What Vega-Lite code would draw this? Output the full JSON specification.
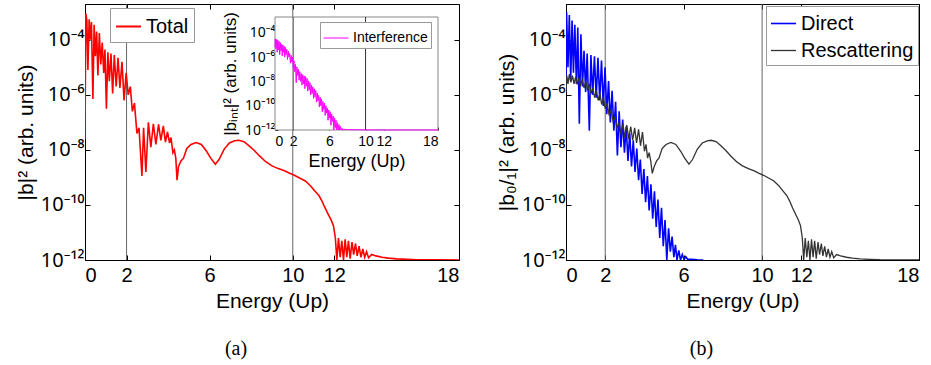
{
"$schema":"https://vega.github.io/schema/vega-lite/v6.json",
"background":"white",
"padding":{"left":14,"top":3,"right":0,"bottom":0},
"config":{"font":"Liberation Sans","view":{"stroke":"black","strokeWidth":1},
"axis":{"grid":false,"labelColor":"#000","titleColor":"#000","domainColor":"#000","tickColor":"#000","titleFontWeight":"normal","labelFont":"Liberation Sans","titleFont":"Liberation Sans"},
"axisY":{"labelFont":"Noto Sans"},
"legend":{"labelFont":"Liberation Sans","labelColor":"#000"},
"title":{"font":"Liberation Serif","fontWeight":"normal","color":"#000"}},
"datasets":{
"total":[{"E":0,"v":2.51e-8},{"E":0.04,"v":8.91e-4},{"E":0.09,"v":5.01e-4},{"E":0.14,"v":7.94e-6},{"E":0.2,"v":5.62e-4},{"E":0.26,"v":1e-4},{"E":0.31,"v":4.47e-4},{"E":0.38,"v":7.08e-7},{"E":0.44,"v":3.55e-4},{"E":0.5,"v":2.51e-5},{"E":0.56,"v":2.0e-4},{"E":0.62,"v":5.01e-6},{"E":0.69,"v":1.78e-4},{"E":0.76,"v":1.26e-5},{"E":0.83,"v":7.94e-5},{"E":0.9,"v":6.31e-6},{"E":0.96,"v":4.47e-5},{"E":1.03,"v":3.16e-7},{"E":1.1,"v":3.55e-5},{"E":1.17,"v":3.16e-6},{"E":1.25,"v":3.16e-5},{"E":1.33,"v":1.12e-6},{"E":1.41,"v":2.82e-5},{"E":1.5,"v":2.0e-6},{"E":1.59,"v":2.24e-5},{"E":1.68,"v":1.78e-6},{"E":1.78,"v":1.58e-5},{"E":1.88,"v":6.31e-7},{"E":1.98,"v":6.31e-6},{"E":2.08,"v":1e-6},{"E":2.18,"v":2.0e-6},{"E":2.28,"v":2.51e-7},{"E":2.38,"v":5.01e-7},{"E":2.5,"v":3.98e-8},{"E":2.6,"v":6.31e-8},{"E":2.74,"v":1.12e-9},{"E":2.82,"v":6.31e-8},{"E":2.93,"v":1.58e-9},{"E":3.05,"v":1e-7},{"E":3.17,"v":1.26e-8},{"E":3.29,"v":8.91e-8},{"E":3.41,"v":1.58e-8},{"E":3.54,"v":8.51e-8},{"E":3.65,"v":2.24e-8},{"E":3.77,"v":7.41e-8},{"E":3.87,"v":1.91e-8},{"E":3.97,"v":4.47e-8},{"E":4.07,"v":1.78e-8},{"E":4.14,"v":2.82e-8},{"E":4.23,"v":7.94e-9},{"E":4.3,"v":1e-8},{"E":4.37,"v":5.01e-9},{"E":4.43,"v":7.94e-10},
{"E":4.5,"v":2.51e-9},{"E":4.62,"v":3.98e-9},{"E":4.74,"v":5.01e-9},{"E":4.9,"v":1.12e-8},{"E":5.1,"v":1.58e-8},{"E":5.35,"v":1.86e-8},{"E":5.6,"v":1.58e-8},{"E":5.85,"v":8.91e-9},{"E":6.05,"v":5.01e-9},{"E":6.27,"v":3.02e-9},{"E":6.45,"v":4.47e-9},{"E":6.7,"v":1.07e-8},{"E":6.95,"v":1.78e-8},{"E":7.2,"v":2.14e-8},{"E":7.4,"v":2.24e-8},{"E":7.65,"v":2.0e-8},{"E":7.9,"v":1.41e-8},{"E":8.15,"v":9.55e-9},{"E":8.4,"v":6.03e-9},{"E":8.7,"v":3.72e-9},{"E":9.0,"v":2.63e-9},{"E":9.3,"v":2.09e-9},{"E":9.6,"v":1.74e-9},{"E":9.85,"v":1.41e-9},{"E":10.1,"v":1.17e-9},{"E":10.35,"v":9.33e-10},{"E":10.6,"v":7.41e-10},{"E":10.85,"v":5.01e-10},{"E":11.07,"v":3.16e-10},{"E":11.25,"v":2.24e-10},{"E":11.4,"v":1.41e-10},{"E":11.55,"v":7.94e-11},{"E":11.7,"v":4.68e-11},{"E":11.85,"v":2.82e-11},{"E":11.96,"v":1.74e-11},{"E":12.05,"v":6.31e-12},{"E":12.12,"v":6.31e-13},{"E":12.2,"v":6.31e-12},{"E":12.28,"v":1.26e-12},{"E":12.36,"v":5.01e-12},{"E":12.44,"v":7.94e-13},{"E":12.52,"v":5.62e-12},{"E":12.6,"v":1.26e-12},{"E":12.68,"v":5.01e-12},{"E":12.76,"v":1.12e-12},{"E":12.85,"v":4.47e-12},{"E":12.93,"v":1.58e-12},{"E":13.02,"v":3.98e-12},{"E":13.1,"v":1.41e-12},{"E":13.19,"v":3.16e-12},{"E":13.28,"v":1.26e-12},{"E":13.37,"v":2.51e-12},{"E":13.46,"v":1.26e-12},{"E":13.55,"v":2.0e-12},{"E":13.65,"v":1.2e-12},{"E":13.8,"v":1.58e-12},{"E":14.0,"v":1.41e-12},{"E":14.3,"v":1.26e-12},{"E":14.6,"v":1.17e-12},{"E":15.0,"v":1.1e-12},{"E":15.5,"v":1.05e-12},{"E":16.0,"v":1.02e-12},{"E":17.0,"v":1.01e-12},{"E":18.0,"v":1.0e-12}],
"interf":[{"E":0,"v":6.31e-6},{"E":0.03,"v":3.16e-5},{"E":0.1,"v":5.01e-6},{"E":0.17,"v":2.82e-5},{"E":0.24,"v":2.51e-6},{"E":0.31,"v":2.51e-5},{"E":0.38,"v":3.98e-6},{"E":0.45,"v":2.0e-5},{"E":0.52,"v":1.58e-6},{"E":0.59,"v":1.58e-5},{"E":0.66,"v":3.16e-6},{"E":0.73,"v":1.12e-5},{"E":0.8,"v":1.26e-6},{"E":0.87,"v":1e-5},{"E":0.94,"v":2.51e-6},{"E":1.01,"v":7.94e-6},{"E":1.08,"v":1e-6},{"E":1.15,"v":6.31e-6},{"E":1.22,"v":1.58e-6},{"E":1.3,"v":4.47e-6},{"E":1.38,"v":6.31e-7},{"E":1.46,"v":3.16e-6},{"E":1.54,"v":1e-6},{"E":1.62,"v":2.0e-6},{"E":1.7,"v":3.16e-7},{"E":1.78,"v":1.41e-6},{"E":1.86,"v":3.98e-7},{"E":1.94,"v":1e-6},{"E":2.02,"v":1.26e-7},{"E":2.1,"v":5.01e-7},{"E":2.18,"v":6.31e-8},{"E":2.26,"v":2.51e-7},{"E":2.34,"v":7.94e-9},{"E":2.42,"v":1.58e-7},{"E":2.5,"v":3.16e-8},{"E":2.58,"v":1e-7},{"E":2.66,"v":1.26e-8},{"E":2.74,"v":6.31e-8},{"E":2.82,"v":1e-8},{"E":2.9,"v":4.47e-8},{"E":2.98,"v":5.01e-9},{"E":3.06,"v":3.55e-8},{"E":3.14,"v":6.31e-9},{"E":3.22,"v":2.82e-8},{"E":3.3,"v":2.51e-9},{"E":3.38,"v":2.51e-8},{"E":3.46,"v":3.98e-9},{"E":3.54,"v":1.78e-8},{"E":3.62,"v":1.58e-9},{"E":3.7,"v":1.12e-8},{"E":3.78,"v":2.0e-9},{"E":3.86,"v":7.94e-9},{"E":3.94,"v":7.94e-10},{"E":4.02,"v":5.01e-9},{"E":4.1,"v":1e-9},{"E":4.18,"v":3.55e-9},{"E":4.26,"v":3.98e-10},{"E":4.34,"v":2.51e-9},{"E":4.42,"v":5.01e-10},{"E":4.5,"v":1.78e-9},{"E":4.58,"v":2.0e-10},{"E":4.66,"v":1.12e-9},{"E":4.74,"v":2.51e-10},{"E":4.82,"v":7.08e-10},{"E":4.9,"v":7.94e-11},{"E":4.98,"v":5.01e-10},{"E":5.06,"v":1e-10},{"E":5.14,"v":3.55e-10},{"E":5.22,"v":3.16e-11},{"E":5.3,"v":2.24e-10},{"E":5.38,"v":5.01e-11},{"E":5.46,"v":1.58e-10},{"E":5.54,"v":1.58e-11},{"E":5.62,"v":1e-10},{"E":5.7,"v":2.51e-11},{"E":5.78,"v":6.31e-11},{"E":5.86,"v":6.31e-12},{"E":5.94,"v":4.47e-11},{"E":6.02,"v":1e-11},{"E":6.1,"v":3.16e-11},{"E":6.18,"v":2.51e-12},{"E":6.26,"v":2.0e-11},{"E":6.34,"v":5.01e-12},{"E":6.42,"v":1.41e-11},{"E":6.5,"v":7.94e-13},{"E":6.58,"v":1e-11},{"E":6.66,"v":1.58e-12},{"E":6.74,"v":6.31e-12},{"E":6.82,"v":6.31e-13},{"E":6.9,"v":3.98e-12},{"E":6.98,"v":1e-12},{"E":7.06,"v":2.82e-12},{"E":7.14,"v":5.01e-13},{"E":7.22,"v":2.0e-12},{"E":7.3,"v":6.31e-13},{"E":7.4,"v":1.41e-12},{"E":7.5,"v":7.94e-13},{"E":7.6,"v":1.12e-12},{"E":8.0,"v":1.07e-12},{"E":9.0,"v":1.05e-12},{"E":10.0,"v":1.02e-12},{"E":12.0,"v":1.01e-12},{"E":18.0,"v":1.01e-12}],
"b":[{"s":"Direct","E":0,"v":1.58e-6},{"s":"Direct","E":0.03,"v":1.0e-3},{"s":"Direct","E":0.1,"v":1e-5},{"s":"Direct","E":0.17,"v":7.94e-4},{"s":"Direct","E":0.24,"v":3.16e-6},{"s":"Direct","E":0.31,"v":5.01e-4},{"s":"Direct","E":0.38,"v":6.31e-6},{"s":"Direct","E":0.45,"v":3.55e-4},{"s":"Direct","E":0.53,"v":2.51e-6},{"s":"Direct","E":0.6,"v":2.82e-4},{"s":"Direct","E":0.68,"v":8.91e-8},{"s":"Direct","E":0.76,"v":1.58e-4},{"s":"Direct","E":0.84,"v":2.0e-6},{"s":"Direct","E":0.92,"v":3.98e-5},{"s":"Direct","E":1.0,"v":1.26e-6},{"s":"Direct","E":1.08,"v":3.16e-5},{"s":"Direct","E":1.19,"v":5.01e-8},{"s":"Direct","E":1.27,"v":2.82e-5},{"s":"Direct","E":1.36,"v":1e-6},{"s":"Direct","E":1.45,"v":2.51e-5},{"s":"Direct","E":1.54,"v":7.94e-7},{"s":"Direct","E":1.63,"v":2.24e-5},{"s":"Direct","E":1.72,"v":6.31e-7},{"s":"Direct","E":1.81,"v":1.78e-5},{"s":"Direct","E":1.9,"v":3.98e-7},{"s":"Direct","E":1.99,"v":1e-5},{"s":"Direct","E":2.08,"v":2.0e-7},{"s":"Direct","E":2.17,"v":3.16e-6},{"s":"Direct","E":2.26,"v":1e-7},{"s":"Direct","E":2.35,"v":1.41e-6},{"s":"Direct","E":2.44,"v":5.01e-8},{"s":"Direct","E":2.53,"v":5.62e-7},{"s":"Direct","E":2.62,"v":6.31e-9},{"s":"Direct","E":2.71,"v":2.51e-7},{"s":"Direct","E":2.8,"v":1.26e-8},{"s":"Direct","E":2.89,"v":1.26e-7},{"s":"Direct","E":2.98,"v":7.94e-9},{"s":"Direct","E":3.07,"v":7.08e-8},{"s":"Direct","E":3.16,"v":3.98e-9},{"s":"Direct","E":3.25,"v":3.98e-8},{"s":"Direct","E":3.34,"v":2.51e-9},{"s":"Direct","E":3.43,"v":2.24e-8},{"s":"Direct","E":3.52,"v":1.58e-9},{"s":"Direct","E":3.61,"v":1.12e-8},{"s":"Direct","E":3.7,"v":7.94e-10},{"s":"Direct","E":3.79,"v":4.47e-9},{"s":"Direct","E":3.88,"v":2.51e-10},{"s":"Direct","E":3.97,"v":2.0e-9},{"s":"Direct","E":4.06,"v":1.26e-10},{"s":"Direct","E":4.15,"v":1.12e-9},{"s":"Direct","E":4.24,"v":6.31e-11},{"s":"Direct","E":4.33,"v":5.62e-10},{"s":"Direct","E":4.42,"v":3.16e-11},{"s":"Direct","E":4.51,"v":3.16e-10},{"s":"Direct","E":4.6,"v":1.58e-11},{"s":"Direct","E":4.69,"v":1.58e-10},{"s":"Direct","E":4.78,"v":6.31e-12},{"s":"Direct","E":4.87,"v":7.94e-11},{"s":"Direct","E":4.96,"v":3.16e-12},{"s":"Direct","E":5.05,"v":2.82e-11},{"s":"Direct","E":5.14,"v":3.16e-13},{"s":"Direct","E":5.23,"v":1.41e-11},{"s":"Direct","E":5.32,"v":2.0e-12},{"s":"Direct","E":5.41,"v":7.08e-12},{"s":"Direct","E":5.5,"v":1.26e-12},{"s":"Direct","E":5.58,"v":3.55e-12},{"s":"Direct","E":5.66,"v":3.16e-13},{"s":"Direct","E":5.75,"v":2.24e-12},{"s":"Direct","E":5.84,"v":7.94e-13},{"s":"Direct","E":5.93,"v":1.58e-12},{"s":"Direct","E":6.02,"v":1.05e-12},{"s":"Direct","E":6.11,"v":1.32e-12},{"s":"Direct","E":6.2,"v":1.07e-12},{"s":"Direct","E":6.4,"v":1.07e-12},{"s":"Direct","E":6.7,"v":1.02e-12},{"s":"Direct","E":7.0,"v":1.0e-12},
{"s":"Rescattering","E":0,"v":1.26e-6},{"s":"Rescattering","E":0.04,"v":5.01e-6},{"s":"Rescattering","E":0.1,"v":2.51e-6},{"s":"Rescattering","E":0.17,"v":5.62e-6},{"s":"Rescattering","E":0.25,"v":2.82e-6},{"s":"Rescattering","E":0.33,"v":5.01e-6},{"s":"Rescattering","E":0.41,"v":2.51e-6},{"s":"Rescattering","E":0.49,"v":4.47e-6},{"s":"Rescattering","E":0.57,"v":2.4e-6},{"s":"Rescattering","E":0.65,"v":4.17e-6},{"s":"Rescattering","E":0.74,"v":2.24e-6},{"s":"Rescattering","E":0.83,"v":3.55e-6},{"s":"Rescattering","E":0.92,"v":1.78e-6},{"s":"Rescattering","E":1.01,"v":3.16e-6},{"s":"Rescattering","E":1.1,"v":1.41e-6},{"s":"Rescattering","E":1.19,"v":2.51e-6},{"s":"Rescattering","E":1.28,"v":1.12e-6},{"s":"Rescattering","E":1.37,"v":1.78e-6},{"s":"Rescattering","E":1.46,"v":7.94e-7},{"s":"Rescattering","E":1.55,"v":1.41e-6},{"s":"Rescattering","E":1.64,"v":6.31e-7},{"s":"Rescattering","E":1.73,"v":1.12e-6},{"s":"Rescattering","E":1.82,"v":4.47e-7},{"s":"Rescattering","E":1.91,"v":7.94e-7},{"s":"Rescattering","E":2.0,"v":3.16e-7},{"s":"Rescattering","E":2.1,"v":5.01e-7},{"s":"Rescattering","E":2.2,"v":1.78e-7},{"s":"Rescattering","E":2.3,"v":2.82e-7},{"s":"Rescattering","E":2.4,"v":1.12e-7},{"s":"Rescattering","E":2.5,"v":1.58e-7},{"s":"Rescattering","E":2.6,"v":6.31e-8},{"s":"Rescattering","E":2.7,"v":1e-7},{"s":"Rescattering","E":2.8,"v":3.55e-8},{"s":"Rescattering","E":2.9,"v":8.91e-8},{"s":"Rescattering","E":3.0,"v":2.82e-8},{"s":"Rescattering","E":3.1,"v":7.94e-8},{"s":"Rescattering","E":3.2,"v":2.51e-8},{"s":"Rescattering","E":3.3,"v":7.08e-8},{"s":"Rescattering","E":3.4,"v":2.24e-8},{"s":"Rescattering","E":3.5,"v":6.31e-8},{"s":"Rescattering","E":3.6,"v":1.78e-8},{"s":"Rescattering","E":3.7,"v":5.62e-8},{"s":"Rescattering","E":3.8,"v":1.41e-8},{"s":"Rescattering","E":3.9,"v":4.47e-8},{"s":"Rescattering","E":4.0,"v":8.91e-9},{"s":"Rescattering","E":4.08,"v":1.58e-8},{"s":"Rescattering","E":4.16,"v":5.01e-9},{"s":"Rescattering","E":4.24,"v":7.94e-9},{"s":"Rescattering","E":4.32,"v":3.98e-9},{"s":"Rescattering","E":4.4,"v":1.41e-9},
{"s":"Rescattering","E":4.5,"v":2.51e-9},{"s":"Rescattering","E":4.62,"v":3.98e-9},{"s":"Rescattering","E":4.74,"v":5.01e-9},{"s":"Rescattering","E":4.9,"v":1.12e-8},{"s":"Rescattering","E":5.1,"v":1.58e-8},{"s":"Rescattering","E":5.35,"v":1.86e-8},{"s":"Rescattering","E":5.6,"v":1.58e-8},{"s":"Rescattering","E":5.85,"v":8.91e-9},{"s":"Rescattering","E":6.05,"v":5.01e-9},{"s":"Rescattering","E":6.27,"v":3.02e-9},{"s":"Rescattering","E":6.45,"v":4.47e-9},{"s":"Rescattering","E":6.7,"v":1.07e-8},{"s":"Rescattering","E":6.95,"v":1.78e-8},{"s":"Rescattering","E":7.2,"v":2.14e-8},{"s":"Rescattering","E":7.4,"v":2.24e-8},{"s":"Rescattering","E":7.65,"v":2.0e-8},{"s":"Rescattering","E":7.9,"v":1.41e-8},{"s":"Rescattering","E":8.15,"v":9.55e-9},{"s":"Rescattering","E":8.4,"v":6.03e-9},{"s":"Rescattering","E":8.7,"v":3.72e-9},{"s":"Rescattering","E":9.0,"v":2.63e-9},{"s":"Rescattering","E":9.3,"v":2.09e-9},{"s":"Rescattering","E":9.6,"v":1.74e-9},{"s":"Rescattering","E":9.85,"v":1.41e-9},{"s":"Rescattering","E":10.1,"v":1.17e-9},{"s":"Rescattering","E":10.35,"v":9.33e-10},{"s":"Rescattering","E":10.6,"v":7.41e-10},{"s":"Rescattering","E":10.85,"v":5.01e-10},{"s":"Rescattering","E":11.07,"v":3.16e-10},{"s":"Rescattering","E":11.25,"v":2.24e-10},{"s":"Rescattering","E":11.4,"v":1.41e-10},{"s":"Rescattering","E":11.55,"v":7.94e-11},{"s":"Rescattering","E":11.7,"v":4.68e-11},{"s":"Rescattering","E":11.85,"v":2.82e-11},{"s":"Rescattering","E":11.96,"v":1.74e-11},{"s":"Rescattering","E":12.05,"v":6.31e-12},{"s":"Rescattering","E":12.12,"v":6.31e-13},{"s":"Rescattering","E":12.2,"v":6.31e-12},{"s":"Rescattering","E":12.28,"v":1.26e-12},{"s":"Rescattering","E":12.36,"v":5.01e-12},{"s":"Rescattering","E":12.44,"v":7.94e-13},{"s":"Rescattering","E":12.52,"v":5.62e-12},{"s":"Rescattering","E":12.6,"v":1.26e-12},{"s":"Rescattering","E":12.68,"v":5.01e-12},{"s":"Rescattering","E":12.76,"v":1.12e-12},{"s":"Rescattering","E":12.85,"v":4.47e-12},{"s":"Rescattering","E":12.93,"v":1.58e-12},{"s":"Rescattering","E":13.02,"v":3.98e-12},{"s":"Rescattering","E":13.1,"v":1.41e-12},{"s":"Rescattering","E":13.19,"v":3.16e-12},{"s":"Rescattering","E":13.28,"v":1.26e-12},{"s":"Rescattering","E":13.37,"v":2.51e-12},{"s":"Rescattering","E":13.46,"v":1.26e-12},{"s":"Rescattering","E":13.55,"v":2.0e-12},{"s":"Rescattering","E":13.65,"v":1.2e-12},{"s":"Rescattering","E":13.8,"v":1.58e-12},{"s":"Rescattering","E":14.0,"v":1.41e-12},{"s":"Rescattering","E":14.3,"v":1.26e-12},{"s":"Rescattering","E":14.6,"v":1.17e-12},{"s":"Rescattering","E":15.0,"v":1.1e-12},{"s":"Rescattering","E":15.5,"v":1.05e-12},{"s":"Rescattering","E":16.0,"v":1.02e-12},{"s":"Rescattering","E":17.0,"v":1.01e-12},{"s":"Rescattering","E":18.0,"v":1.0e-12}]
},
"spacing":107,
"bounds":"flush",
"hconcat":[
{"width":374,"height":256,
 "title":{"text":"(a)","orient":"bottom","anchor":"middle","fontSize":20,"dx":-36,"offset":28},
 "resolve":{"scale":{"x":"independent","y":"independent","color":"independent"},"legend":{"color":"independent"}},
 "layer":[
  {"layer":[
   {"data":{"values":[{"E":2},{"E":10}]},"mark":{"type":"rule","color":"#666","strokeWidth":1},
    "encoding":{"x":{"field":"E","type":"quantitative","scale":{"domain":[0,18],"nice":false}}}},
   {"data":{"name":"total"},"mark":{"type":"line","clip":true,"strokeWidth":1.6},
    "encoding":{
     "x":{"field":"E","type":"quantitative","scale":{"domain":[0,18],"nice":false},
      "axis":{"orient":"bottom","values":[0,2,6,10,12,18],"labelFontSize":20,"labelPadding":10,"tickSize":-5,"title":"Energy (Up)","titleFontSize":21,"titlePadding":5}},
     "y":{"field":"v","type":"quantitative","scale":{"type":"log","domain":[1e-12,2e-3],"nice":false,"clamp":true},
      "axis":{"orient":"left","values":[1e-12,1e-10,1e-8,1e-6,1e-4],"labelFontSize":20,"labelPadding":6,"tickSize":-5,
       "labelExpr":"datum.value < 1e-11 ? '10⁻¹²' : datum.value < 1e-9 ? '10⁻¹⁰' : datum.value < 1e-7 ? '10⁻⁸' : datum.value < 1e-5 ? '10⁻⁶' : '10⁻⁴'",
       "title":"|b|² (arb. units)","titleFontSize":21,"titlePadding":4}},
     "color":{"datum":"Total","type":"nominal","scale":{"range":["#ff0000"]},
      "legend":{"orient":"none","legendX":25,"legendY":4,"title":null,"symbolType":"stroke","symbolSize":625,"symbolStrokeWidth":2,"labelFontSize":20,"labelOffset":4,"padding":5,"strokeColor":"#999","fillColor":"white"}}}}
  ]},
  {"data":{"values":[{"E":0,"v":1e-12}]},"mark":{"type":"point","opacity":0},
   "encoding":{
    "x":{"field":"E","type":"quantitative","scale":{"domain":[0,18],"nice":false},"axis":{"orient":"top","values":[0,2,6,10,12,18],"labels":false,"domain":false,"tickSize":-5,"title":null}},
    "y":{"field":"v","type":"quantitative","scale":{"type":"log","domain":[1e-12,2e-3],"nice":false},"axis":{"orient":"right","values":[1e-12,1e-10,1e-8,1e-6,1e-4],"labels":false,"domain":false,"tickSize":-5,"title":null}}}},
  {"layer":[
   {"data":{"values":[{"x0":0,"x1":18,"y0":1e-12,"y1":2e-3}]},"mark":{"type":"rect","fill":"white","stroke":"#888","strokeWidth":1},
    "encoding":{
     "x":{"field":"x0","type":"quantitative","scale":{"domain":[0,18],"range":[190,353],"nice":false},
      "axis":{"orient":"bottom","offset":-130,"values":[0,2,6,10,12,18],"domain":false,"labelFontSize":14,"labelPadding":7,"tickSize":-3,"title":"Energy (Up)","titleFontSize":18,"titlePadding":4}},
     "x2":{"field":"x1"},
     "y":{"field":"y0","type":"quantitative","scale":{"type":"log","domain":[1e-12,2e-3],"range":[126,13],"nice":false,"clamp":true},
      "axis":{"orient":"left","offset":-190,"values":[1e-12,1e-10,1e-8,1e-6,1e-4],"domain":false,"labelFontSize":14,"labelPadding":3,"tickSize":-3,
       "labelExpr":"datum.value < 1e-11 ? '10⁻¹²' : datum.value < 1e-9 ? '10⁻¹⁰' : datum.value < 1e-7 ? '10⁻⁸' : datum.value < 1e-5 ? '10⁻⁶' : '10⁻⁴'",
       "title":"|bᵢₙₜ|² (arb. units)","titleFontSize":17,"titlePadding":5}},
     "y2":{"field":"y1"}}},
   {"data":{"values":[{"E":2},{"E":10}]},"mark":{"type":"rule","color":"#333","strokeWidth":1},
    "encoding":{"x":{"field":"E","type":"quantitative"},"y":{"datum":1e-12},"y2":{"datum":2e-3}}},
   {"data":{"name":"interf"},"mark":{"type":"line","strokeWidth":1},
    "encoding":{"x":{"field":"E","type":"quantitative"},"y":{"field":"v","type":"quantitative"},
     "color":{"datum":"Interference","type":"nominal","scale":{"range":["#ff00ff"]},
      "legend":{"orient":"none","legendX":235,"legendY":18,"title":null,"symbolType":"stroke","symbolSize":625,"symbolStrokeWidth":1,"labelFontSize":14,"labelOffset":4,"padding":3,"strokeColor":"#999","fillColor":"white"}}}}
  ]}
 ]},
{"width":353,"height":256,
 "title":{"text":"(b)","orient":"bottom","anchor":"middle","fontSize":20,"dx":-41,"offset":28},
 "resolve":{"scale":{"x":"independent","y":"independent"}},
 "layer":[
  {"layer":[
   {"data":{"values":[{"E":2},{"E":10}]},"mark":{"type":"rule","color":"#666","strokeWidth":1},
    "encoding":{"x":{"field":"E","type":"quantitative","scale":{"domain":[0,18],"nice":false}}}},
   {"data":{"name":"b"},"mark":{"type":"line","clip":true},
    "encoding":{
     "x":{"field":"E","type":"quantitative","scale":{"domain":[0,18],"nice":false},
      "axis":{"orient":"bottom","values":[0,2,6,10,12,18],"labelFontSize":20,"labelPadding":10,"tickSize":-5,"title":"Energy (Up)","titleFontSize":21,"titlePadding":5}},
     "y":{"field":"v","type":"quantitative","scale":{"type":"log","domain":[1e-12,2e-3],"nice":false,"clamp":true},
      "axis":{"orient":"left","values":[1e-12,1e-10,1e-8,1e-6,1e-4],"labelFontSize":20,"labelPadding":6,"tickSize":-5,
       "labelExpr":"datum.value < 1e-11 ? '10⁻¹²' : datum.value < 1e-9 ? '10⁻¹⁰' : datum.value < 1e-7 ? '10⁻⁸' : datum.value < 1e-5 ? '10⁻⁶' : '10⁻⁴'",
       "title":"|b₀/₁|² (arb. units)","titleFontSize":21,"titlePadding":4}},
     "color":{"field":"s","type":"nominal","scale":{"domain":["Direct","Rescattering"],"range":["#0000ff","#333333"]},
      "legend":{"orient":"none","legendX":681,"legendY":2,"title":null,"symbolType":"stroke","symbolSize":625,"symbolStrokeWidth":2,"labelFontSize":20,"labelOffset":4,"padding":4,"rowPadding":3,"strokeColor":"#999","fillColor":"white"}},
     "strokeWidth":{"field":"s","type":"nominal","scale":{"domain":["Direct","Rescattering"],"range":[1.6,1.3]},"legend":null}}}
  ]},
  {"data":{"values":[{"E":0,"v":1e-12}]},"mark":{"type":"point","opacity":0},
   "encoding":{
    "x":{"field":"E","type":"quantitative","scale":{"domain":[0,18],"nice":false},"axis":{"orient":"top","values":[0,2,6,10,12,18],"labels":false,"domain":false,"tickSize":-5,"title":null}},
    "y":{"field":"v","type":"quantitative","scale":{"type":"log","domain":[1e-12,2e-3],"nice":false},"axis":{"orient":"right","values":[1e-12,1e-10,1e-8,1e-6,1e-4],"labels":false,"domain":false,"tickSize":-5,"title":null}}}}
 ]}
]
}
